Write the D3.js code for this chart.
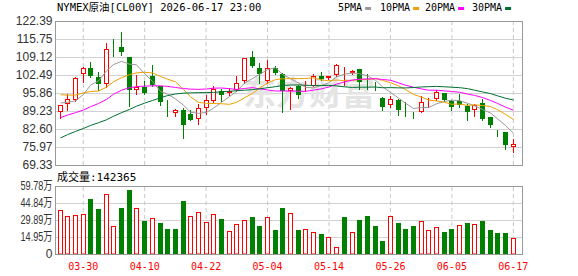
<!DOCTYPE html>
<html>
<head>
<meta charset="utf-8">
<script src="https://cdn.jsdelivr.net/npm/d3@7"></script>
<style>
body { margin: 0; background: #fff; }
svg { display: block; }
.mono { font-family: "DejaVu Sans Mono", "Noto Sans CJK SC", monospace; }
.sans { font-family: "Liberation Sans", "Noto Sans CJK SC", sans-serif; }
</style>
</head>
<body>
<div id="chart"></div>
<script>
// trading days shown (MM-DD)
var dates = [
    "03-25","03-26","03-27","03-30","03-31","04-01","04-02","04-06","04-07","04-08",
    "04-09","04-10","04-13","04-14","04-15","04-16","04-17","04-20","04-21","04-22",
    "04-23","04-24","04-27","04-28","04-29","04-30","05-01","05-04","05-05","05-06",
    "05-07","05-08","05-11","05-12","05-13","05-14","05-15","05-18","05-19","05-20",
    "05-21","05-22","05-25","05-26","05-27","05-28","05-29","06-01","06-02","06-03",
    "06-04","06-05","06-08","06-09","06-10","06-11","06-12","06-15","06-16","06-17"
];

var opens = [
    88.87, 91.83, 93.19, 102.92, 105.14, 101.81, 99.35, 113.5, 112.9, 108.96,
    97.13, 98.11, 102.06, 98.36, 92.2, 88.38, 89.74, 88.13, 86.28, 90.35,
    93.06, 96.76, 96.02, 96.88, 100.21, 109.08, 105.14, 100.21, 104.89, 103.04,
    96.51, 98.36, 96.9, 98.6, 102.3, 101.44, 102.55, 102.1, 103.29, 104.52,
    98.98, 98.11, 94.05, 91.34, 93.43, 89.37, 88.63, 88.87, 93.06, 93.68,
    95.9, 92.94, 92.8, 90.97, 89.74, 92.2, 86.9, 81.11, 81.36, 75.93
];
var highs = [
    91.6, 95.65, 101.8, 105.5, 107.23, 103.54, 114.13, 115.86, 118.32, 109.2,
    102.67, 100.33, 106.0, 98.4, 93.43, 89.98, 90.23, 89.7, 91.95, 95.28,
    98.6, 97.5, 97.6, 102.06, 108.9, 111.18, 106.99, 107.85, 105.75, 103.3,
    97.9, 98.98, 100.46, 103.04, 103.78, 102.3, 106.37, 105.5, 104.5, 104.6,
    103.04, 99.84, 94.3, 94.91, 93.5, 92.45, 88.87, 94.67, 94.17, 97.13,
    96.0, 93.43, 95.65, 91.95, 91.95, 93.8, 86.9, 82.34, 81.6, 78.89
];
var lows = [
    86.65, 89.74, 92.8, 99.84, 101.9, 96.88, 98.11, 109.45, 109.7, 91.2,
    95.4, 95.65, 98.36, 91.33, 87.27, 87.52, 79.26, 85.8, 84.56, 88.13,
    92.57, 92.8, 95.3, 96.6, 99.6, 105.5, 99.6, 99.6, 103.0, 88.75,
    90.1, 94.05, 96.5, 98.36, 100.8, 101.2, 102.3, 98.98, 103.04, 97.5,
    97.5, 97.13, 89.5, 90.72, 87.89, 87.27, 86.53, 88.8, 90.6, 93.4,
    92.8, 89.74, 90.6, 86.04, 87.52, 86.04, 83.2, 79.88, 75.32, 73.96
];
var closes = [
    91.34, 93.68, 101.44, 105.14, 102.06, 99.22, 112.16, 113.2, 110.93, 96.88,
    98.11, 95.9, 98.85, 92.45, 91.83, 89.49, 84.19, 86.04, 90.35, 93.43,
    97.37, 95.03, 96.64, 99.59, 108.83, 105.75, 102.92, 105.14, 103.29, 96.51,
    97.87, 95.03, 97.2, 102.06, 101.2, 102.3, 106.0, 102.5, 104.15, 99.84,
    98.36, 97.87, 90.6, 93.68, 89.49, 88.87, 88.13, 92.57, 93.43, 96.39,
    93.19, 90.6, 91.58, 88.75, 91.58, 86.41, 84.19, 80.87, 76.55, 77.16
];

// volume in 万 (10k contracts)
var volumes = [
    38.5, 33.2, 34.1, 35.0, 48.1, 39.4, 52.5, 24.5, 40.2, 56.0,
    40.2, 29.2, 31.5, 27.1, 21.9, 21.9, 46.4, 33.2, 36.7, 28.0,
    35.0, 30.6, 20.1, 26.2, 29.7, 32.4, 24.5, 32.4, 21.0, 40.2,
    35.9, 21.0, 21.9, 19.2, 17.5, 14.9, 6.1, 32.4, 19.2, 29.7,
    33.2, 24.5, 11.4, 33.0, 27.1, 21.9, 24.5, 28.9, 21.0, 23.6,
    19.2, 21.9, 25.4, 27.1, 26.2, 28.9, 21.0, 18.4, 18.4, 14.2365
];

// moving averages
var ma5 = [
    92.2, 92.4, 93.0, 95.3, 98.73, 100.31, 104.0, 106.36, 107.51, 106.48,
    106.26, 103.0, 100.13, 96.44, 95.43, 93.7, 91.36, 88.8, 88.38, 88.7,
    90.28, 92.44, 94.56, 96.41, 99.49, 101.17, 102.75, 104.45, 105.19, 102.72,
    101.15, 99.57, 97.98, 97.73, 98.67, 99.56, 101.75, 102.81, 103.23, 102.96,
    102.17, 100.54, 98.16, 96.07, 94.0, 92.1, 90.15, 90.55, 90.5, 91.88,
    92.74, 93.24, 93.04, 92.1, 91.14, 89.78, 88.5, 86.36, 83.92, 81.04
];
var ma10 = [
    95.2, 95.1, 95.1, 95.9, 96.4, 96.6, 98.0, 100.0, 101.5, 102.6,
    103.28, 103.5, 103.25, 101.98, 100.95, 99.98, 97.18, 94.47, 92.41, 92.06,
    91.99, 91.9, 91.68, 92.4, 94.1, 95.72, 97.6, 99.5, 100.8, 101.11,
    101.16, 101.16, 101.21, 101.46, 100.7, 100.35, 100.66, 100.4, 100.48, 100.82,
    100.86, 101.15, 100.49, 99.65, 98.48, 97.14, 95.35, 94.36, 93.28, 92.94,
    92.42, 91.7, 91.79, 91.3, 91.51, 91.26, 90.87, 89.7, 88.01, 86.09
];
var ma20 = [
    86.8, 87.7, 88.6, 89.6, 90.8, 92.0, 93.5, 95.4, 96.9, 97.8,
    98.2, 98.4, 98.5, 98.5, 98.3, 97.9, 97.5, 97.3, 97.2, 97.33,
    97.64, 97.7, 97.46, 97.19, 97.52, 97.85, 97.39, 96.99, 96.6, 96.59,
    96.57, 96.53, 96.45, 96.93, 97.4, 98.04, 99.13, 99.95, 100.64, 100.96,
    101.01, 101.15, 100.85, 100.56, 99.59, 98.74, 98.0, 97.38, 96.88, 96.88,
    96.64, 96.42, 96.14, 95.48, 94.99, 94.2, 93.11, 92.03, 90.65, 89.51
];
var ma30 = [
    79.3, 80.5, 81.7, 82.8, 83.9, 84.9, 86.0, 87.3, 88.6, 89.8,
    91.0, 92.1, 93.1, 94.1, 94.9, 95.5, 95.8, 95.9, 96.0, 96.0,
    96.1, 96.3, 96.5, 96.7, 96.9, 97.1, 97.4, 97.8, 98.2, 98.59,
    98.81, 98.85, 98.71, 98.61, 98.58, 98.68, 98.48, 98.12, 97.9, 98.0,
    98.0, 98.07, 97.79, 97.84, 97.76, 97.74, 97.87, 98.09, 98.19, 98.29,
    98.15, 98.0, 97.83, 97.47, 96.9, 96.25, 95.63, 94.82, 93.93, 93.28
];

var priceTicks = [122.39, 115.75, 109.12, 102.49, 95.86, 89.23, 82.60, 75.97, 69.33];
var volumeTicks = [0, 14.95, 29.89, 44.84, 59.78];
var dateTicks = ["03-30", "04-10", "04-22", "05-04", "05-14", "05-26", "06-05", "06-17"];
var maNames = ["5PMA", "10PMA", "20PMA", "30PMA"];

var title = "NYMEX原油[CL00Y] 2026-06-17 23:00";
var RED = "#ff0000", GREEN = "#008000";
var maColors = ["#999999", "#f0a000", "#ff00ff", "#006f33"];

// STEP 1: CANVAS
var svgWidth = 578, svgHeight = 276;
var left = 55, right = 522;
var pTop = 21, pBottom = 165;
var vTop = 186, vBottom = 254;

var svg = d3.select("#chart").append("svg")
    .attr("width", svgWidth)
    .attr("height", svgHeight);

// STEP 2: SCALES
var x = d3.scaleBand().domain(dates).range([56.36, 517.16]);
var cx = function(d) { return Math.round(x(d) + x.bandwidth() / 2 - 0.5); };
var y = d3.scaleLinear().domain([69.33, 122.39]).range([pBottom, pTop]);
var yv = d3.scaleLinear().domain([0, 59.78]).range([vBottom, vTop]);

// STEP 3: GRID + AXES
var pAxis = svg.append("g")
    .attr("transform", `translate(${left}, 0)`)
    .call(d3.axisLeft(y).tickValues(priceTicks).tickSize(-(right - left)).tickPadding(2.5)
        .tickFormat(d3.format(".2f")));
pAxis.select(".domain").remove();
pAxis.selectAll("line").attr("stroke", "#d2d2d2");
pAxis.selectAll("text").attr("class", "sans").attr("font-size", 12).attr("fill", "#333");

var vAxis = svg.append("g")
    .attr("transform", `translate(${left}, 0)`)
    .call(d3.axisLeft(yv).tickValues(volumeTicks).tickSize(-(right - left)).tickPadding(2.5)
        .tickFormat(d => d === 0 ? "0" : d.toFixed(2) + "万"));
vAxis.select(".domain").remove();
vAxis.selectAll("line").attr("stroke", "#d2d2d2");
vAxis.selectAll("text").attr("class", "sans").attr("font-size", 12).attr("fill", "#333")
    .each(function(d) {
        if (d !== 0) d3.select(this).attr("textLength", 32).attr("lengthAdjust", "spacingAndGlyphs");
    });

var xGrid = svg.append("g")
    .attr("transform", `translate(0, ${pBottom})`)
    .call(d3.axisTop(x).tickValues(dateTicks).tickSize(pBottom - pTop).tickFormat(""));
xGrid.select(".domain").remove();
xGrid.selectAll("line").attr("stroke", "#c8c8c8").attr("stroke-dasharray", "4,3");

var xAxis = svg.append("g")
    .attr("transform", `translate(0, ${vBottom})`)
    .call(d3.axisBottom(x).tickValues(dateTicks).tickSize(-(vBottom - vTop)).tickPadding(9));
xAxis.select(".domain").remove();
xAxis.selectAll("line").attr("stroke", "#c8c8c8").attr("stroke-dasharray", "4,3");
xAxis.selectAll("text").attr("class", "mono").attr("font-size", 10).attr("fill", RED);

// watermark
svg.append("text")
    .attr("x", 243).attr("y", 105)
    .attr("font-family", "Noto Sans CJK SC")
    .attr("font-weight", "bold")
    .attr("font-size", 33)
    .attr("fill", "#e4e4e4")
    .text("东方财富");

// STEP 4: CANDLES
var candles = svg.append("g").selectAll("g")
    .data(dates)
    .enter()
    .append("g");

candles.append("line")
    .attr("x1", d => cx(d) + 0.5).attr("x2", d => cx(d) + 0.5)
    .attr("y1", (d, i) => Math.round(y(highs[i])))
    .attr("y2", (d, i) => Math.round(y(lows[i])) + 1)
    .attr("stroke", (d, i) => closes[i] >= opens[i] ? RED : GREEN);

candles.append("rect")
    .attr("x", d => cx(d) - 1.5)
    .attr("width", 4)
    .attr("y", (d, i) => Math.round(y(Math.max(opens[i], closes[i]))) + 0.5)
    .attr("height", (d, i) => Math.max(Math.round(y(Math.min(opens[i], closes[i]))) - Math.round(y(Math.max(opens[i], closes[i]))) - 1, 0))
    .attr("fill", (d, i) => closes[i] >= opens[i] ? "#fff" : GREEN)
    .attr("stroke", (d, i) => closes[i] >= opens[i] ? RED : GREEN);

// STEP 5: MOVING AVERAGES
var maData = [ma5, ma10, ma20, ma30];
var line = d3.line()
    .x((d, i) => cx(dates[i]) + 0.5)
    .y(d => y(d));
svg.append("g").selectAll("path")
    .data(maData)
    .enter()
    .append("path")
    .attr("d", d => line(d))
    .attr("fill", "none")
    .attr("stroke", (d, k) => maColors[k])
    .attr("stroke-width", 1);

// STEP 6: VOLUME (colour by close vs previous close)
var volUp = function(i) { return i === 0 ? closes[i] >= opens[i] : closes[i] >= closes[i - 1]; };
svg.append("g").selectAll("rect")
    .data(volumes)
    .enter()
    .append("rect")
    .attr("x", (d, i) => cx(dates[i]) - 1.5)
    .attr("width", 4)
    .attr("y", d => Math.round(yv(d)) + 0.5)
    .attr("height", d => vBottom - Math.round(yv(d)) - 0.5)
    .attr("fill", (d, i) => volUp(i) ? "#fff" : GREEN)
    .attr("stroke", (d, i) => volUp(i) ? RED : GREEN);

// STEP 7: FRAMES
svg.append("rect")
    .attr("x", left + 0.5).attr("y", pTop + 0.5)
    .attr("width", right - left).attr("height", pBottom - pTop)
    .attr("fill", "none").attr("stroke", "#999");
svg.append("rect")
    .attr("x", left + 0.5).attr("y", vTop + 0.5)
    .attr("width", right - left).attr("height", vBottom - vTop)
    .attr("fill", "none").attr("stroke", "#999");

// STEP 8: TITLE, LEGEND, VOLUME LABEL
svg.append("text")
    .attr("class", "mono")
    .attr("x", 57).attr("y", 11)
    .attr("font-size", 10.5)
    .attr("fill", "#000")
    .text(title);

var legendX = [338, 380, 425, 472];
var legend = svg.append("g").selectAll("g")
    .data(maNames)
    .enter()
    .append("g")
    .attr("transform", (d, k) => `translate(${legendX[k]}, 0)`);
legend.append("text")
    .attr("class", "mono")
    .attr("y", 11)
    .attr("font-size", 10)
    .attr("fill", "#000")
    .text(d => d);
legend.append("rect")
    .attr("x", d => d.length * 6.02 + 3)
    .attr("y", 7)
    .attr("width", 6)
    .attr("height", 3)
    .attr("fill", (d, k) => maColors[k]);

svg.append("text")
    .attr("class", "mono")
    .attr("x", 57).attr("y", 181)
    .attr("font-size", 11)
    .attr("fill", "#000")
    .text("成交量:" + Math.round(volumes[volumes.length - 1] * 10000));
</script>
</body>
</html>
